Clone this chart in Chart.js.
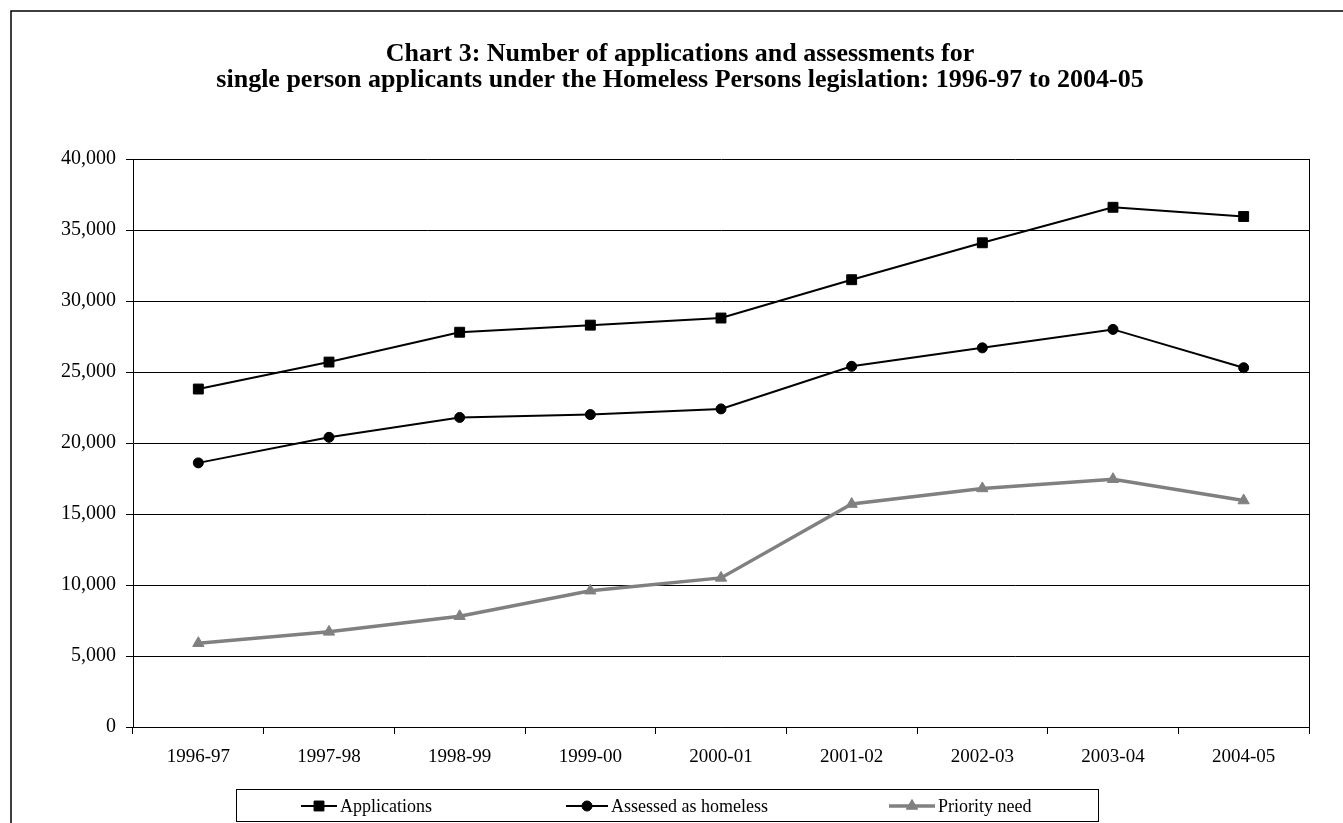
<!DOCTYPE html>
<html>
<head>
<meta charset="utf-8">
<script src="https://cdn.jsdelivr.net/npm/chart.js@4/dist/chart.umd.min.js"></script>
<style>
  html, body { margin: 0; padding: 0; background: #fff; }
  #wrap { width: 1343px; height: 823px; position: relative; }
</style>
</head>
<body>
<div id="wrap"><canvas id="c" width="1343" height="823"></canvas></div>
<script>
const titleLines = [
  'Chart 3: Number of applications and assessments for',
  'single person applicants under the Homeless Persons legislation: 1996-97 to 2004-05'
];
const categories = ['1996-97', '1997-98', '1998-99', '1999-00', '2000-01', '2001-02', '2002-03', '2003-04', '2004-05'];
const applications = [23800, 25700, 27800, 28300, 28800, 31500, 34100, 36600, 35950];
const assessedHomeless = [18600, 20400, 21800, 22000, 22400, 25400, 26700, 28000, 25300];
const priorityNeed = [5900, 6700, 7800, 9600, 10500, 15700, 16800, 17450, 15950];
const seriesLabels = ['Applications', 'Assessed as homeless', 'Priority need'];
const yMin = 0, yMax = 40000, yStep = 5000;

const FONT = "'Liberation Serif', 'Times New Roman', serif";

const framePlugin = {
  id: 'frame',
  beforeDraw(chart) {
    const ctx = chart.ctx;
    ctx.save();
    ctx.fillStyle = '#fff';
    ctx.fillRect(0, 0, chart.width, chart.height);
    ctx.strokeStyle = '#000';
    ctx.lineWidth = 1.5;
    ctx.beginPath();
    ctx.moveTo(11, chart.height);
    ctx.lineTo(11, 11);
    ctx.lineTo(chart.width, 11);
    ctx.stroke();
    ctx.restore();
  },
  afterDatasetsDraw() {},
  afterDraw(chart) {
    const ctx = chart.ctx;
    const a = chart.chartArea;
    ctx.save();
    ctx.strokeStyle = '#000';
    ctx.lineWidth = 1;
    ctx.beginPath();
    ctx.moveTo(Math.round(a.right) + 0.5, a.top);
    ctx.lineTo(Math.round(a.right) + 0.5, a.bottom);
    ctx.stroke();

    // legend
    const box = { x: 236.5, y: 789.5, w: 862, h: 32 };
    ctx.strokeRect(box.x, box.y, box.w, box.h);
    const cy = box.y + box.h / 2 + 0.5;
    const items = [
      { x1: 301, x2: 337 },
      { x1: 566, x2: 608 },
      { x1: 889, x2: 935 }
    ];
    ctx.font = '18px ' + FONT;
    ctx.textBaseline = 'middle';
    ctx.textAlign = 'left';
    chart.data.datasets.forEach((ds, i) => {
      const it = items[i];
      ctx.strokeStyle = ds.borderColor;
      ctx.lineWidth = ds.borderWidth;
      ctx.beginPath();
      ctx.moveTo(it.x1, cy);
      ctx.lineTo(it.x2, cy);
      ctx.stroke();
      const mx = (it.x1 + it.x2) / 2;
      ctx.fillStyle = ds.pointBackgroundColor;
      ctx.strokeStyle = ds.pointBorderColor;
      ctx.lineWidth = ds.pointBorderWidth;
      Chart.helpers.drawPoint(ctx, {
        pointStyle: ds.pointStyle,
        radius: ds.pointRadius,
        rotation: 0,
        borderWidth: ds.pointBorderWidth
      }, mx, cy);
      ctx.fillStyle = '#000';
      ctx.fillText(ds.label, it.x2 + 3, cy + 1);
    });
    ctx.restore();
  }
};

new Chart(document.getElementById('c'), {
  type: 'line',
  data: {
    labels: categories,
    datasets: [
      {
        label: seriesLabels[0], data: applications,
        borderColor: '#000', borderWidth: 2,
        pointStyle: 'rect', pointRadius: 7, pointBorderWidth: 1,
        pointBackgroundColor: '#000', pointBorderColor: '#000',
        tension: 0
      },
      {
        label: seriesLabels[1], data: assessedHomeless,
        borderColor: '#000', borderWidth: 2,
        pointStyle: 'circle', pointRadius: 5, pointBorderWidth: 1,
        pointBackgroundColor: '#000', pointBorderColor: '#000',
        tension: 0
      },
      {
        label: seriesLabels[2], data: priorityNeed,
        borderColor: '#808080', borderWidth: 3.5,
        pointStyle: 'triangle', pointRadius: 6.5, pointBorderWidth: 1,
        pointBackgroundColor: '#808080', pointBorderColor: '#808080',
        tension: 0
      }
    ]
  },
  options: {
    responsive: false,
    animation: false,
    layout: { padding: { left: 51, right: 34, top: 0, bottom: 56 } },
    plugins: {
      legend: { display: false },
      tooltip: { enabled: false },
      title: {
        display: true,
        text: titleLines,
        color: '#000',
        font: { family: FONT, size: 26, weight: 'bold', lineHeight: 1.0 },
        padding: { top: 41, bottom: 66 }
      }
    },
    scales: {
      x: {
        offset: true,
        grid: { offset: true, drawOnChartArea: false, drawTicks: true, tickLength: 7, color: '#000', tickColor: '#000' },
        border: { display: true, color: '#000', width: 1 },
        ticks: { color: '#000', font: { family: FONT, size: 19 }, padding: 12, maxRotation: 0, autoSkip: false },
        afterFit(s) { s.height = 40; }
      },
      y: {
        min: yMin, max: yMax,
        grid: { color: '#000', lineWidth: 1, drawTicks: true, tickLength: 7, tickColor: '#000' },
        border: { display: true, color: '#000', width: 1 },
        ticks: {
          stepSize: yStep, color: '#000', padding: 10,
          font: { family: FONT, size: 20 },
          callback: v => Number(v).toLocaleString('en-US')
        },
        afterFit(s) { s.width = 82; }
      }
    }
  },
  plugins: [framePlugin]
});
</script>
</body>
</html>
